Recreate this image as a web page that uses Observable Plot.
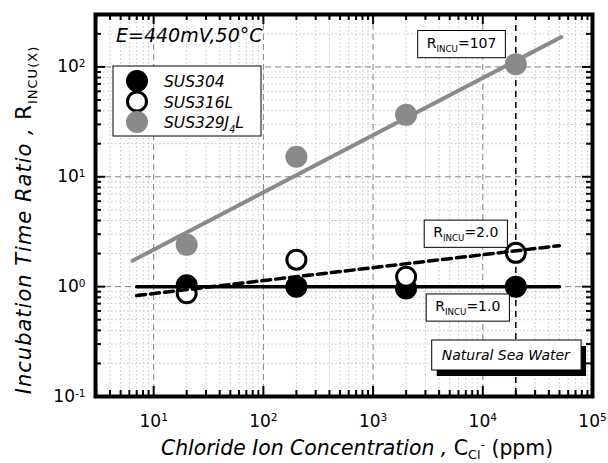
<!DOCTYPE html>
<html><head><meta charset="utf-8">
<script src="https://cdn.jsdelivr.net/npm/d3@7"></script>
<script src="https://cdn.jsdelivr.net/npm/@observablehq/plot@0.6"></script>
<style>
html,body{margin:0;padding:0;background:#fff;}
#chart{width:608px;height:463px;overflow:hidden;}
svg text{white-space:pre;}
</style></head><body><div id="chart"></div>
<script>
// ---- data ----
const concentrations = [20, 200, 2000, 20000];
const sus304 = [1.03, 1.0, 0.96, 1.0];
const sus316L = [0.87, 1.76, 1.23, 2.03];
const sus329J4L = [2.4, 15.2, 36.6, 106];
const seriesNames = ["SUS304", "SUS316L", "SUS329J_{4}L"];
const fitX304 = [7, 50000];
const fitY304 = [1.0, 1.0];
const fitX316L = [7, 50000];
const fitY316L = [0.83, 2.36];
const fitX329 = [6.4, 52000];
const fitY329 = [1.72, 187];
const seaWaterX = [20000];
const xTickValues = [10, 100, 1000, 10000, 100000];
const xTickLabels = ["10^{1}", "10^{2}", "10^{3}", "10^{4}", "10^{5}"];
const yTickValues = [0.1, 1, 10, 100];
const yTickLabels = ["10^{-1}", "10^{0}", "10^{1}", "10^{2}"];
const annTexts = ["R_{INCU}=107", "R_{INCU}=2.0", "R_{INCU}=1.0"];
const annX = [6400, 7000, 7300];
const annY = [165, 3.1, 0.66];
const noteTexts = ["Natural Sea Water"];
const noteX = [16200];
const noteY = [0.236];
const conditionText = "E=440mV,50°C";
const xTitle = "*Chloride Ion Concentration ,* C_{Cl}^{-} (ppm)";
const yTitle = "*Incubation Time Ratio ,* R_{INCU(X)}";

// ---- layout ----
const W = 608, H = 463, mL = 95, mR = 16, mT = 14, mB = 67;
const PW = W - mL - mR, PH = H - mT - mB;
const GRAY = "#8a8a8a";

function minors(lo, hi) {
  const out = [];
  for (let e = Math.floor(Math.log10(lo)); e <= Math.ceil(Math.log10(hi)); e++) {
    for (let k = 2; k <= 9; k++) {
      const v = k * Math.pow(10, e);
      if (v > lo * 1.0001 && v < hi * 0.9999) out.push(v);
    }
  }
  return out;
}
const xDomain = [2.95, 1e5], yDomain = [0.1, 300];
const xMinor = minors(...xDomain), yMinor = minors(...yDomain);
const xMajorIn = xTickValues.filter(v => v > xDomain[0] && v < xDomain[1]);
const yMajorIn = yTickValues.filter(v => v > yDomain[0] && v < yDomain[1]);

const rows = concentrations.map((c, i) => ({c, a: sus304[i], b: sus316L[i], g: sus329J4L[i]}));
const toPts = (xs, ys) => xs.map((x, i) => ({x, y: ys[i]}));
const anns = annTexts.map((t, i) => ({t, x: annX[i], y: annY[i]}));
const notes = noteTexts.map((t, i) => ({t, x: noteX[i], y: noteY[i]}));

const chart = Plot.plot({
  width: W, height: H,
  marginLeft: mL, marginRight: mR, marginTop: mT, marginBottom: mB,
  x: {type: "log", domain: xDomain},
  y: {type: "log", domain: yDomain},
  style: {fontFamily: "DejaVu Sans", fontSize: "17px", color: "black", background: "white"},
  marks: [
    // grid
    Plot.ruleX(xMinor, {x: d => d, stroke: "#c4c4c4", strokeDasharray: "1.5,2.5", strokeWidth: 1}),
    Plot.ruleY(yMinor, {y: d => d, stroke: "#c4c4c4", strokeDasharray: "1.5,2.5", strokeWidth: 1}),
    Plot.ruleX(xMajorIn, {x: d => d, stroke: "#808080", strokeDasharray: "6,4", strokeWidth: 1}),
    Plot.ruleY(yMajorIn, {y: d => d, stroke: "#808080", strokeDasharray: "6,4", strokeWidth: 1}),
    Plot.ruleX(seaWaterX, {x: d => d, stroke: "black", strokeDasharray: "6,5", strokeWidth: 1.5}),
    // inward ticks
    Plot.ruleX(xMinor, {x: d => d, insetTop: PH - 6, stroke: "black", strokeWidth: 2}),
    Plot.ruleX(xMinor, {x: d => d, insetBottom: PH - 6, stroke: "black", strokeWidth: 2}),
    Plot.ruleX(xMajorIn, {x: d => d, insetTop: PH - 10, stroke: "black", strokeWidth: 2}),
    Plot.ruleX(xMajorIn, {x: d => d, insetBottom: PH - 10, stroke: "black", strokeWidth: 2}),
    Plot.ruleY(yMinor, {y: d => d, insetRight: PW - 6, stroke: "black", strokeWidth: 2}),
    Plot.ruleY(yMinor, {y: d => d, insetLeft: PW - 6, stroke: "black", strokeWidth: 2}),
    Plot.ruleY(yMajorIn, {y: d => d, insetRight: PW - 10, stroke: "black", strokeWidth: 2}),
    Plot.ruleY(yMajorIn, {y: d => d, insetLeft: PW - 10, stroke: "black", strokeWidth: 2}),
    // points
    Plot.dot(rows, {x: "c", y: "g", r: 11, fill: GRAY, stroke: "none"}),
    Plot.dot(rows, {x: "c", y: "a", r: 11, fill: "black", stroke: "none"}),
    Plot.dot(rows, {x: "c", y: "b", r: 9.5, fill: "white", stroke: "black", strokeWidth: 3}),
    // fit lines
    Plot.line(toPts(fitX329, fitY329), {x: "x", y: "y", stroke: GRAY, strokeWidth: 4}),
    Plot.line(toPts(fitX304, fitY304), {x: "x", y: "y", stroke: "black", strokeWidth: 3.5}),
    Plot.line(toPts(fitX316L, fitY316L), {x: "x", y: "y", stroke: "black", strokeWidth: 3.5, strokeDasharray: "9,5"}),
    // annotations
    Plot.text(anns, {x: "x", y: "y", text: "t", fontSize: 14, textAnchor: "middle", lineAnchor: "middle"}),
    Plot.text(notes, {x: "x", y: "y", text: "t", fontSize: 14, fontStyle: "italic", textAnchor: "middle", lineAnchor: "middle"}),
    // axes
    Plot.axisX({ticks: xTickValues, tickSize: 0, tickPadding: 18, label: null, fontSize: 17,
      tickFormat: d => xTickLabels[xTickValues.indexOf(d)]}),
    Plot.axisY({ticks: yTickValues, tickSize: 0, tickPadding: 10, label: null, fontSize: 17,
      tickFormat: d => yTickLabels[yTickValues.indexOf(d)]}),
    Plot.frame({stroke: "black", strokeWidth: 4})
  ]
});
document.getElementById("chart").appendChild(chart);

// ---- rich text helpers ----
const NS = "http://www.w3.org/2000/svg";
function parse(s) {
  const out = []; let i = 0, italic = false, buf = "";
  const push = (t, mode) => { if (t) out.push({t, mode, italic}); };
  while (i < s.length) {
    const c = s[i];
    if (c === "*") { push(buf, "n"); buf = ""; italic = !italic; i++; }
    else if ((c === "_" || c === "^") && s[i + 1] === "{") {
      push(buf, "n"); buf = "";
      const j = s.indexOf("}", i);
      push(s.slice(i + 2, j), c === "_" ? "sub" : "sup");
      i = j + 1;
    } else { buf += c; i++; }
  }
  push(buf, "n");
  return out;
}
function richify(el, size, useItalic, subShift = 0.3, supShift = 0.3) {
  const segs = parse(el.textContent);
  while (el.firstChild) el.removeChild(el.firstChild);
  let cur = 0;
  for (const seg of segs) {
    const ts = document.createElementNS(NS, "tspan");
    let target = 0, fs = size;
    if (seg.mode === "sub") { target = size * subShift; fs = size * 0.62; }
    else if (seg.mode === "sup") { target = -size * supShift; fs = size * 0.62; }
    ts.setAttribute("font-size", fs);
    if (Math.abs(target - cur) > 1e-6) ts.setAttribute("dy", target - cur);
    cur = target;
    if (useItalic) ts.setAttribute("font-style", seg.italic ? "italic" : "normal");
    ts.textContent = seg.t;
    el.appendChild(ts);
  }
}
const svg = d3.select(chart);
svg.selectAll('g[aria-label="x-axis tick label"] text').each(function () { richify(this, 17, false); });
svg.selectAll('g[aria-label="y-axis tick label"] text').each(function () { richify(this, 17, false); });

function boxAround(el, px, py, shadow) {
  const bb = el.getBBox();
  const parent = el.parentNode;
  const tr = el.getAttribute("transform");
  const mk = (dx, dy, fill, stroke) => {
    const r = document.createElementNS(NS, "rect");
    r.setAttribute("x", bb.x - px + dx); r.setAttribute("y", bb.y - py + dy);
    r.setAttribute("width", bb.width + 2 * px); r.setAttribute("height", bb.height + 2 * py);
    r.setAttribute("fill", fill);
    if (stroke) { r.setAttribute("stroke", stroke); r.setAttribute("stroke-width", 1); }
    if (tr) r.setAttribute("transform", tr);
    parent.insertBefore(r, el);
  };
  if (shadow) mk(5, 6, "black", null);
  mk(0, 0, "white", "black");
}
const allTexts = Array.from(chart.querySelectorAll("text"));
allTexts.filter(t => annTexts.includes(t.textContent)).forEach(t => { richify(t, 14, false); boxAround(t, 9, 4, false); });
allTexts.filter(t => noteTexts.includes(t.textContent)).forEach(t => { boxAround(t, 10, 7, true); });

// legend
const lg = svg.append("g");
lg.append("rect").attr("x", 113).attr("y", 66).attr("width", 148).attr("height", 70)
  .attr("fill", "white").attr("stroke", "black").attr("stroke-width", 1);
const legendStyles = [
  {fill: "black", stroke: "none", sw: 0, r: 11},
  {fill: "white", stroke: "black", sw: 3, r: 9.5},
  {fill: GRAY, stroke: "none", sw: 0, r: 11}
];
seriesNames.forEach((name, i) => {
  const st = legendStyles[i];
  lg.append("circle").attr("cx", 137).attr("cy", 81 + i * 20.5).attr("r", st.r)
    .attr("fill", st.fill).attr("stroke", st.stroke).attr("stroke-width", st.sw);
  const t = lg.append("text").attr("x", 164).attr("y", 87 + i * 20.5).attr("text-anchor", "start")
    .attr("font-family", "DejaVu Sans").attr("font-size", 15.5).attr("font-style", "italic").text(name);
  richify(t.node(), 15.5, false, 0.35);
});

// condition label
svg.append("text").attr("x", 116).attr("y", 42).attr("text-anchor", "start").attr("font-family", "DejaVu Sans")
  .attr("font-size", 19).attr("font-style", "italic").text(conditionText);

// axis titles
const xt = svg.append("text").attr("x", 357).attr("y", 455).attr("text-anchor", "middle")
  .attr("font-family", "DejaVu Sans").attr("font-size", 20.4).text(xTitle);
richify(xt.node(), 20.4, true, 0.2, 0.3);
const yt = svg.append("text").attr("transform", `translate(31,220) rotate(-90)`)
  .attr("text-anchor", "middle").attr("font-family", "DejaVu Sans").attr("font-size", 21)
  .attr("letter-spacing", 1).text(yTitle);
richify(yt.node(), 21, true, 0.3, 0.3);
</script>
</body></html>
